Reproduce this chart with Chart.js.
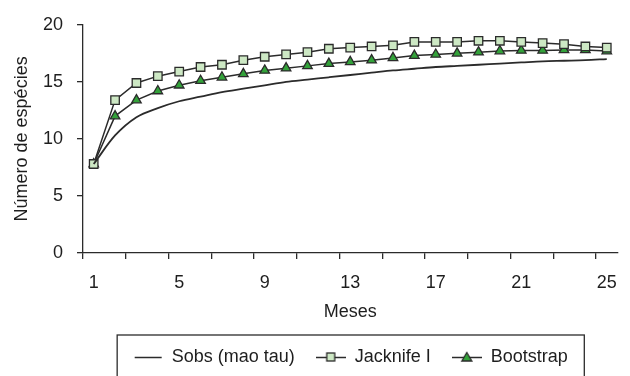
<!DOCTYPE html>
<html>
<head>
<meta charset="utf-8">
<script src="https://cdn.jsdelivr.net/npm/chart.js"></script>
<style>
  body { margin: 0; background: #fff; }
  canvas { display: block; }
</style>
</head>
<body>
<canvas id="riqueza" width="630" height="376"></canvas>
<script>
// months 1..25, species accumulation estimates
const meses = ['1','2','3','4','5','6','7','8','9','10','11','12','13','14','15','16','17','18','19','20','21','22','23','24','25'];
const sobs = [7.8, 10.3, 11.9, 12.7, 13.3, 13.7, 14.1, 14.4, 14.7, 15.0, 15.2, 15.4, 15.6, 15.8, 16.0, 16.15, 16.3, 16.4, 16.5, 16.6, 16.7, 16.8, 16.85, 16.9, 17.0];
const jacknife = [7.8, 13.4, 14.9, 15.5, 15.9, 16.3, 16.5, 16.9, 17.2, 17.4, 17.6, 17.9, 18.0, 18.1, 18.2, 18.5, 18.5, 18.5, 18.6, 18.6, 18.5, 18.4, 18.3, 18.1, 18.0];
const bootstrap = [7.8, 12.0, 13.4, 14.2, 14.7, 15.1, 15.4, 15.7, 16.0, 16.2, 16.4, 16.6, 16.75, 16.9, 17.1, 17.3, 17.4, 17.5, 17.6, 17.7, 17.75, 17.75, 17.8, 17.8, 17.7];
const yTicks = [0, 5, 10, 15, 20];

const INK = '#2b2b2b';
const LIGHT_GREEN = '#cde8c4';
const GREEN = '#33a23a';
const FONT = { family: '"Liberation Sans", Arial, sans-serif', size: 18 };

// little canvases for the legend samples (line + marker)
function sample(marker) {
  const c = document.createElement('canvas');
  c.width = 30; c.height = 14;
  const g = c.getContext('2d');
  g.strokeStyle = INK; g.lineWidth = 1.5;
  g.beginPath(); g.moveTo(marker ? 0 : 2, 7.5); g.lineTo(marker ? 30 : 29, 7.5); g.stroke();
  if (marker === 'rect') {
    g.fillStyle = LIGHT_GREEN;
    g.fillRect(11, 3, 8, 8);
    g.lineWidth = 1.3; g.strokeRect(11, 3, 8, 8);
  } else if (marker === 'triangle') {
    g.fillStyle = GREEN;
    g.beginPath(); g.moveTo(15, 2.5); g.lineTo(20, 11); g.lineTo(10, 11); g.closePath();
    g.fill(); g.lineWidth = 1.3; g.stroke();
  }
  return c;
}

const legendBox = {
  id: 'legendBox',
  afterDraw(chart) {
    const boxes = chart.legend.legendHitBoxes;
    if (!boxes || !boxes.length) return;
    const last = boxes[boxes.length - 1];
    const left = boxes[0].left - 15.5;
    const right = last.left + last.width + 16.5;
    const top = chart.legend.top + 8;
    const ctx = chart.ctx;
    ctx.save();
    ctx.strokeStyle = INK;
    ctx.lineWidth = 1.3;
    ctx.strokeRect(left, top, right - left, chart.height + 10 - top);
    ctx.restore();
  }
};

new Chart(document.getElementById('riqueza').getContext('2d'), {
  type: 'line',
  data: {
    labels: meses,
    datasets: [
      {
        label: 'Sobs (mao tau)',
        data: sobs,
        borderColor: INK,
        borderWidth: 1.8,
        pointRadius: 0,
        cubicInterpolationMode: 'monotone',
        pointStyle: sample(null)
      },
      {
        label: 'Jacknife I',
        data: jacknife,
        borderColor: INK,
        borderWidth: 1.5,
        pointStyle: 'rect',
        pointRadius: 6,
        pointBackgroundColor: LIGHT_GREEN,
        pointBorderColor: INK,
        pointBorderWidth: 1.3
      },
      {
        label: 'Bootstrap',
        data: bootstrap,
        borderColor: INK,
        borderWidth: 1.5,
        pointStyle: 'triangle',
        pointRadius: 5.5,
        pointBackgroundColor: GREEN,
        pointBorderColor: INK,
        pointBorderWidth: 1.3
      }
    ]
  },
  options: {
    responsive: false,
    animation: false,
    layout: { padding: { top: 21, right: 11, left: 0, bottom: 0 } },
    plugins: {
      tooltip: { enabled: false },
      legend: {
        position: 'bottom',
        fullSize: false,
        labels: {
          color: '#1e1e1e',
          font: FONT,
          usePointStyle: true,
          pointStyleWidth: 30,
          padding: 21,
          generateLabels(chart) {
            return chart.data.datasets.map((ds, i) => ({
              text: ds.label,
              datasetIndex: i,
              pointStyle: i === 0 ? ds.pointStyle : sample(i === 1 ? 'rect' : 'triangle'),
              fillStyle: 'transparent',
              strokeStyle: 'transparent',
              lineWidth: 0,
              fontColor: '#1e1e1e'
            }));
          }
        }
      }
    },
    scales: {
      x: {
        type: 'category',
        offset: true,
        afterFit(s) { s.height = 74; },
        border: { display: true, color: INK, width: 1.3 },
        grid: {
          offset: true,
          drawOnChartArea: false,
          tickLength: 6,
          lineWidth: 1.3,
          color: INK,
          tickColor: ctx => (ctx.index % 2 === 0 ? INK : 'rgba(0,0,0,0)')
        },
        ticks: {
          autoSkip: false,
          maxRotation: 0,
          padding: 13,
          color: '#1e1e1e',
          font: FONT,
          callback: (v, i) => (i % 4 === 0 ? meses[i] : '')
        },
        title: {
          display: true,
          text: 'Meses',
          color: '#1e1e1e',
          font: FONT,
          padding: { top: 7, bottom: 4 }
        }
      },
      y: {
        min: 0,
        max: 20,
        afterFit(s) { s.width = 83; },
        afterBuildTicks(s) { s.ticks = yTicks.map(v => ({ value: v })); },
        border: { display: true, color: INK, width: 1.3 },
        grid: {
          drawOnChartArea: false,
          tickLength: 6,
          lineWidth: 1.3,
          color: INK
        },
        ticks: {
          padding: 14,
          color: '#1e1e1e',
          font: FONT
        },
        title: {
          display: true,
          text: 'Número de espécies',
          color: '#1e1e1e',
          font: FONT,
          padding: { top: 11, bottom: 0 }
        }
      }
    }
  },
  plugins: [legendBox]
});
</script>
</body>
</html>
